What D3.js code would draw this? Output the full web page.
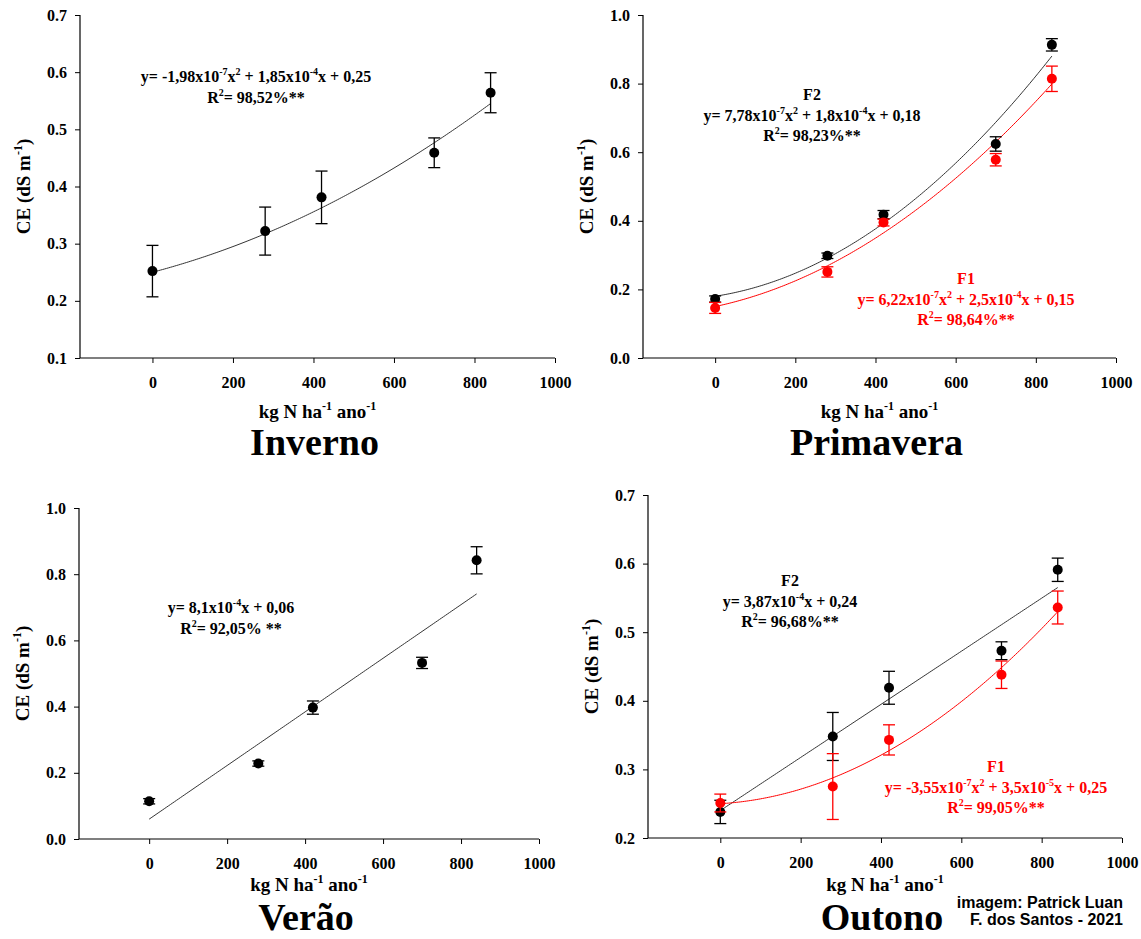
<!DOCTYPE html>
<html><head><meta charset="utf-8">
<script src="https://cdn.jsdelivr.net/npm/d3@7"></script>
<style>
body{margin:0;background:#fff}
svg{display:block}
text{font-family:"Liberation Serif","Times New Roman",serif;font-weight:bold;fill:#000}
</style>
</head><body>
<svg id="chart" width="1141" height="939"></svg>
<script>
// ---------- data ----------
const doses = [0, 280, 420, 700, 840];
const xTicks = [0, 200, 400, 600, 800, 1000];

const invernoCE  = [0.252, 0.322, 0.381, 0.459, 0.564];
const invernoErr = [0.045, 0.042, 0.046, 0.026, 0.035];
const invernoFit = [1.98e-7, 1.85e-4, 0.25];

const primaveraF2CE  = [0.172, 0.298, 0.418, 0.624, 0.913];
const primaveraF2Err = [0.009, 0.008, 0.012, 0.021, 0.018];
const primaveraF2Fit = [7.78e-7, 1.8e-4, 0.18];
const primaveraF1CE  = [0.146, 0.251, 0.395, 0.578, 0.814];
const primaveraF1Err = [0.016, 0.015, 0.010, 0.018, 0.037];
const primaveraF1Fit = [6.22e-7, 2.5e-4, 0.15];

const veraoCE  = [0.114, 0.228, 0.397, 0.532, 0.842];
const veraoErr = [0.008, 0.008, 0.020, 0.017, 0.041];
const veraoFit = [0, 8.1e-4, 0.06];

const outonoF2CE  = [0.238, 0.348, 0.419, 0.473, 0.591];
const outonoF2Err = [0.017, 0.035, 0.024, 0.013, 0.017];
const outonoF2Fit = [0, 3.87e-4, 0.24];
const outonoF1CE  = [0.251, 0.275, 0.343, 0.438, 0.536];
const outonoF1Err = [0.013, 0.048, 0.022, 0.020, 0.024];
const outonoF1Fit = [3.55e-7, 3.5e-5, 0.25];

const yTicksA = [0.1, 0.2, 0.3, 0.4, 0.5, 0.6, 0.7];
const yTicksB = [0.0, 0.2, 0.4, 0.6, 0.8, 1.0];
const yTicksC = [0.2, 0.3, 0.4, 0.5, 0.6, 0.7];

const titles = ["Inverno", "Primavera", "Verão", "Outono"];
const invernoEq = ["y= -1,98x10^{-7}x^{2} + 1,85x10^{-4}x + 0,25", "R^{2}= 98,52%**"];
const primaveraF2Eq = ["F2", "y= 7,78x10^{-7}x^{2} + 1,8x10^{-4}x + 0,18", "R^{2}= 98,23%**"];
const primaveraF1Eq = ["F1", "y= 6,22x10^{-7}x^{2} + 2,5x10^{-4}x + 0,15", "R^{2}= 98,64%**"];
const veraoEq = ["y= 8,1x10^{-4}x + 0,06", "R^{2}= 92,05% **"];
const outonoF2Eq = ["F2", "y= 3,87x10^{-4}x + 0,24", "R^{2}= 96,68%**"];
const outonoF1Eq = ["F1", "y= -3,55x10^{-7}x^{2} + 3,5x10^{-5}x + 0,25", "R^{2}= 99,05%**"];
const credit = ["imagem: Patrick Luan", "F. dos Santos - 2021"];

// ---------- layout ----------
const BLACK = "#000", RED = "#ff0000";
const panels = [
  {title: titles[0], L: 80, R: 555, T: 15, B: 358, yDom: [0.1, 0.7], yTicks: yTicksA, titleY: 455, xLabY: 418,
   series: [{v: invernoCE, e: invernoErr, fit: invernoFit, c: BLACK, lc: "#333"}],
   labels: [{lines: invernoEq, x: 256, y: 82, c: BLACK}]},
  {title: titles[1], L: 643, R: 1116, T: 15, B: 358, yDom: [0, 1], yTicks: yTicksB, titleY: 455, xLabY: 418,
   series: [{v: primaveraF2CE, e: primaveraF2Err, fit: primaveraF2Fit, c: BLACK, lc: "#333"},
            {v: primaveraF1CE, e: primaveraF1Err, fit: primaveraF1Fit, c: RED, lc: RED}],
   labels: [{lines: primaveraF2Eq, x: 812, y: 100, c: BLACK}, {lines: primaveraF1Eq, x: 966, y: 284, c: RED}]},
  {title: titles[2], L: 79, R: 539, T: 508, B: 839, yDom: [0, 1], yTicks: yTicksB, titleY: 930, xLabY: 891,
   series: [{v: veraoCE, e: veraoErr, fit: veraoFit, c: BLACK, lc: "#333"}],
   labels: [{lines: veraoEq, x: 231, y: 613, c: BLACK}]},
  {title: titles[3], L: 648, R: 1122, T: 495, B: 838, yDom: [0.2, 0.7], yTicks: yTicksC, titleY: 930, xLabY: 891,
   series: [{v: outonoF2CE, e: outonoF2Err, fit: outonoF2Fit, c: BLACK, lc: "#333"},
            {v: outonoF1CE, e: outonoF1Err, fit: outonoF1Fit, c: RED, lc: RED}],
   labels: [{lines: outonoF2Eq, x: 790, y: 586, c: BLACK}, {lines: outonoF1Eq, x: 996, y: 772, c: RED}]}
];

const svg = d3.select("#chart");

function richText(sel, str, fs) {
  // parse ^{...} superscripts; shifts in px so they cancel exactly
  const shift = Math.round(fs * 0.42);
  const parts = str.split(/(\^\{[^}]*\})/).filter(s => s.length);
  let pending = 0;
  parts.forEach(p => {
    if (p.startsWith("^{")) {
      sel.append("tspan").attr("font-size", Math.round(fs * 0.65)).attr("dy", -shift + pending).text(p.slice(2, -1));
      pending = shift;
    } else {
      const t = sel.append("tspan").attr("font-size", fs).text(p);
      if (pending) t.attr("dy", pending);
      pending = 0;
    }
  });
}

panels.forEach(p => {
  const g = svg.append("g");
  const x = d3.scaleLinear().domain([-180, 1000]).range([p.L, p.R]);
  const y = d3.scaleLinear().domain(p.yDom).range([p.B, p.T]);

  // axes
  const xAx = g.append("g").attr("transform", `translate(0,${p.B})`)
    .call(d3.axisBottom(x).tickValues(xTicks).tickSize(5).tickPadding(14).tickFormat(d3.format("d")));
  const yAx = g.append("g").attr("transform", `translate(${p.L},0)`)
    .call(d3.axisLeft(y).tickValues(p.yTicks).tickSize(5).tickPadding(8).tickFormat(d3.format(".1f")));
  [xAx, yAx].forEach(a => {
    a.select(".domain").attr("stroke", "#000").attr("stroke-width", 1.2);
    a.selectAll(".tick line").attr("stroke", "#000").attr("stroke-width", 1);
    a.selectAll("text").attr("font-size", 16).attr("font-family", "Liberation Serif").attr("font-weight", "bold").attr("fill", "#000");
  });
  xAx.select(".domain").attr("d", `M${p.L},0H${x(1000)}`);
  yAx.select(".domain").attr("d", `M0,${y(p.yDom[0])}V${y(p.yDom[1])}`);

  // axis titles
  const yl = g.append("text").attr("text-anchor", "middle").attr("font-size", 19)
    .attr("transform", `translate(${p.L - 50},${(p.T + p.B) / 2}) rotate(-90)`);
  richText(yl, "CE (dS m^{-1})", 19);
  const xl = g.append("text").attr("text-anchor", "middle").attr("font-size", 19)
    .attr("x", (p.L + p.R) / 2).attr("y", p.xLabY);
  richText(xl, "kg N ha^{-1} ano^{-1}", 19);

  // title
  g.append("text").attr("text-anchor", "middle").attr("font-size", 38)
    .attr("x", (p.L + p.R) / 2 - 3).attr("y", p.titleY).text(p.title);

  // fitted curves
  p.series.forEach(s => {
    const pts = d3.range(0, 841, 5).map(d => [d, s.fit[0] * d * d + s.fit[1] * d + s.fit[2]]);
    g.append("path").datum(pts).attr("fill", "none").attr("stroke", s.lc).attr("stroke-width", 1)
      .attr("d", d3.line().x(d => x(d[0])).y(d => y(d[1])));
  });
  // error bars and points
  p.series.forEach(s => {
    const data = doses.map((d, i) => ({d, v: s.v[i], e: s.e[i]}));
    const eb = g.append("g").attr("stroke", s.c).attr("stroke-width", 1.3);
    eb.selectAll(".v").data(data).join("line")
      .attr("x1", d => x(d.d)).attr("x2", d => x(d.d))
      .attr("y1", d => y(d.v - d.e)).attr("y2", d => y(d.v + d.e));
    eb.selectAll(".t").data(data).join("line")
      .attr("x1", d => x(d.d) - 6).attr("x2", d => x(d.d) + 6)
      .attr("y1", d => y(d.v + d.e)).attr("y2", d => y(d.v + d.e));
    eb.selectAll(".b").data(data).join("line")
      .attr("x1", d => x(d.d) - 6).attr("x2", d => x(d.d) + 6)
      .attr("y1", d => y(d.v - d.e)).attr("y2", d => y(d.v - d.e));
    g.append("g").selectAll("circle").data(data).join("circle")
      .attr("cx", d => x(d.d)).attr("cy", d => y(d.v)).attr("r", 5).attr("fill", s.c);
  });

  // equation labels
  p.labels.forEach(l => {
    l.lines.forEach((line, i) => {
      const t = g.append("text").attr("text-anchor", "middle").attr("font-size", 16)
        .attr("x", l.x).attr("y", l.y + i * 20.5).style("fill", l.c);
      richText(t, line, 16);
      t.selectAll("tspan").style("fill", l.c);
    });
  });
});

// credit
credit.forEach((c, i) => {
  svg.append("text").attr("text-anchor", "end").attr("x", 1123).attr("y", 908 + i * 17)
    .attr("font-size", 16).style("font-family", "'Liberation Sans', Arial, sans-serif")
    .style("font-weight", "bold").text(c);
});
</script>
</body></html>
